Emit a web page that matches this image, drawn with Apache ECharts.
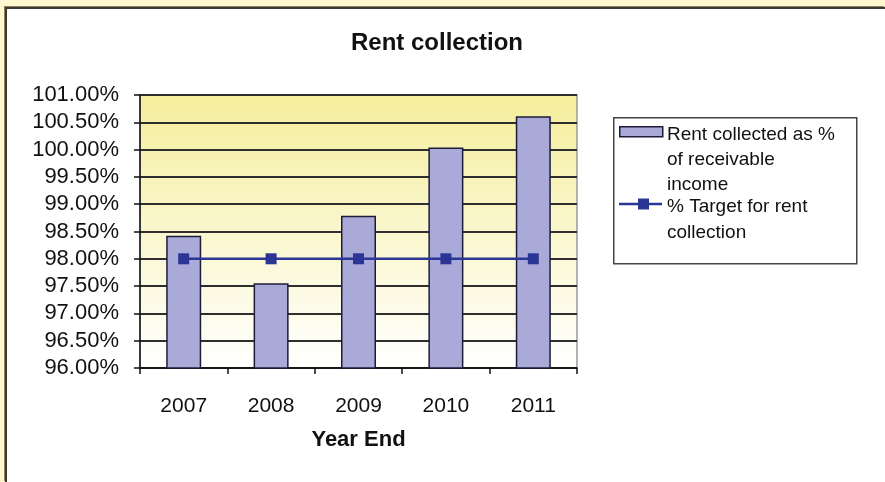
<!DOCTYPE html>
<html>
<head>
<meta charset="utf-8">
<script src="https://cdn.jsdelivr.net/npm/echarts@6/dist/echarts.min.js"></script>
<style>
html,body{margin:0;padding:0;width:885px;height:482px;overflow:hidden;background:#FEF7CF;}
#frame{position:absolute;left:5px;top:7px;width:880px;height:475px;background:#fff;border-left:2px solid #3a3a30;border-top:2px solid #3a3a30;box-sizing:border-box;box-shadow:-1px -1px 0 #8a8560;}
#chart{position:absolute;left:0;top:0;width:885px;height:482px;}
</style>
</head>
<body>
<div id="frame"></div>
<div id="chart"></div>
<script>
const categories = ['2007', '2008', '2009', '2010', '2011'];
const rentCollected = [98.42, 97.55, 98.79, 100.04, 100.61];
const target = [98, 98, 98, 98, 98];
const yTicks = { min: 96, max: 101, interval: 0.5 };
const seriesNames = ['Rent collected as % of receivable income', '% Target for rent collection'];

const font = '"Liberation Sans", Arial, sans-serif';
const chart = echarts.init(document.getElementById('chart'), null, { renderer: 'canvas' });

const legendX = 613, legendY = 117;
chart.setOption({
  backgroundColor: 'transparent',
  animation: false,
  title: {
    text: 'Rent collection',
    left: 432, top: 26, textAlign: 'center',
    textStyle: { fontFamily: font, fontSize: 24, fontWeight: 'bold', color: '#111' }
  },
  grid: { left: 140, top: 95, right: 308, bottom: 114, show: true,
    borderColor: '#9a9a9a', borderWidth: 1.5,
    backgroundColor: new echarts.graphic.LinearGradient(0, 0, 0, 1, [
      { offset: 0, color: '#F5EE9C' },
      { offset: 1, color: '#FFFFFF' }
    ])
  },
  xAxis: {
    type: 'category', data: categories,
    name: 'Year End', nameLocation: 'middle', nameGap: 61,
    nameTextStyle: { fontFamily: font, fontSize: 22, fontWeight: 'bold', color: '#111' },
    axisLine: { lineStyle: { color: '#111', width: 1.5 } },
    axisTick: { show: true, length: 6, lineStyle: { color: '#111', width: 1.5 } },
    axisLabel: { fontFamily: font, fontSize: 21, color: '#111', margin: 28 }
  },
  yAxis: {
    type: 'value', min: yTicks.min, max: yTicks.max, interval: yTicks.interval,
    axisLine: { show: true, lineStyle: { color: '#111', width: 1.5 } },
    axisTick: { show: true, length: 6, lineStyle: { color: '#111', width: 1.5 } },
    axisLabel: { fontFamily: font, fontSize: 22, color: '#111', margin: 21, padding: [6, 0, 0, 0],
      formatter: v => v.toFixed(2) + '%' },
    splitLine: { show: true, lineStyle: { color: '#2e2e2e', width: 1.8 } }
  },
  series: [
    { name: seriesNames[0], type: 'bar', data: rentCollected, barWidth: 35,
      itemStyle: { color: '#AAAAD8', borderColor: '#1c1c3a', borderWidth: 1.5 } },
    { name: seriesNames[1], type: 'line', data: target, symbol: 'rect', symbolSize: 11,
      lineStyle: { color: '#2A3596', width: 2.5 }, itemStyle: { color: '#2A3596' } }
  ],
  graphic: [
    { type: 'rect', left: legendX, top: legendY, shape: { width: 243, height: 146 },
      style: { fill: '#fff', stroke: '#444', lineWidth: 1.5 } },
    { type: 'rect', left: 619, top: 126, shape: { width: 43, height: 10 },
      style: { fill: '#AAAAD8', stroke: '#1c1c3a', lineWidth: 1.5 } },
    { type: 'text', left: 667, top: 122, style: { text: 'Rent collected as %\nof receivable\nincome', font: '19px ' + font, fill: '#111', lineHeight: 25 } },
    { type: 'line', shape: { x1: 619, y1: 204, x2: 662, y2: 204 }, style: { stroke: '#2A3596', lineWidth: 2.5 } },
    { type: 'rect', shape: { x: 638, y: 198.5, width: 11, height: 11 }, style: { fill: '#2A3596' } },
    { type: 'text', left: 667, top: 194, style: { text: '% Target for rent\ncollection', font: '19px ' + font, fill: '#111', lineHeight: 26 } }
  ]
});
</script>
</body>
</html>
